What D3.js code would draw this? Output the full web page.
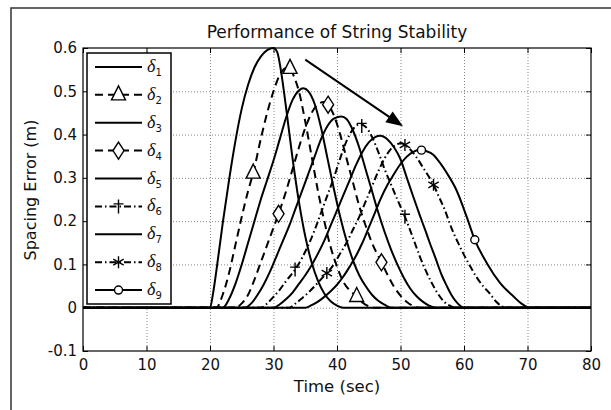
<!DOCTYPE html>
<html>
<head>
<meta charset="utf-8">
<script src="https://cdn.jsdelivr.net/npm/d3@7"></script>
<style>
body { margin: 0; background: #fff; }
svg { display: block; }
text { font-family: "DejaVu Sans", "Liberation Sans", Arial, sans-serif; fill: #111; }
</style>
</head>
<body>
<svg id="chart"></svg>
<script>
// data: [time (sec), spacing error (m)]
const delta1 = [[0,0],[20,0],[20.5,0.035],[21,0.085],[22,0.195],[23,0.295],[24,0.385],[25,0.46],[26,0.515],[27,0.555],[28,0.58],[29,0.595],[30,0.6],[30.6,0.59],[31.2,0.545],[32,0.46],[33,0.345],[34,0.245],[35,0.165],[36,0.105],[37,0.062],[38,0.033],[39,0.015],[40,0.005],[41,0],[80,0]];
const delta2 = [[0,0],[21,0],[22,0.03],[23,0.08],[24,0.145],[25,0.21],[26,0.27],[26.8,0.311],[28,0.39],[29,0.45],[30,0.5],[31,0.538],[32,0.554],[32.6,0.553],[33.2,0.535],[34,0.5],[35,0.43],[36,0.35],[37,0.27],[38,0.2],[39,0.14],[40,0.095],[41,0.06],[42,0.04],[43.1,0.026],[44,0.012],[45,0.003],[45.5,0],[80,0]];
const delta3 = [[0,0],[22,0],[23,0.02],[24,0.055],[25,0.1],[26,0.15],[27,0.2],[28,0.25],[29,0.295],[30,0.34],[31,0.39],[32,0.44],[33,0.48],[34,0.502],[34.7,0.507],[35.5,0.5],[36.5,0.47],[37.5,0.415],[38.5,0.345],[39.5,0.275],[40.5,0.21],[41.5,0.155],[42.5,0.11],[43.5,0.075],[44.5,0.05],[45.5,0.03],[46.5,0.016],[47.5,0.007],[48.5,0],[80,0]];
const delta4 = [[0,0],[24,0],[25,0.01],[26,0.03],[27,0.065],[28,0.105],[29,0.145],[30,0.185],[30.8,0.217],[32,0.27],[33,0.32],[34,0.37],[35,0.415],[36,0.45],[37,0.47],[37.9,0.475],[38.6,0.469],[39.5,0.445],[40.5,0.4],[41.5,0.345],[42.5,0.29],[43.5,0.235],[44.5,0.19],[45.5,0.15],[47,0.105],[48,0.075],[49,0.048],[50,0.028],[51,0.013],[52,0.004],[53,0],[80,0]];
const delta5 = [[0,0],[25.5,0],[26.5,0.01],[27.5,0.03],[28.5,0.055],[29.5,0.085],[30.5,0.12],[31.5,0.155],[32.5,0.19],[33.5,0.23],[34.5,0.27],[35.5,0.31],[36.5,0.35],[37.5,0.39],[38.5,0.42],[39.5,0.437],[40.7,0.442],[41.5,0.436],[42.5,0.41],[43.5,0.37],[44.5,0.32],[45.5,0.27],[46.5,0.22],[47.5,0.175],[48.5,0.135],[49.5,0.1],[50.5,0.07],[51.5,0.045],[52.5,0.027],[53.5,0.014],[54.5,0.005],[55.5,0],[80,0]];
const delta6 = [[0,0],[28,0],[29,0.01],[30,0.025],[31,0.042],[32,0.062],[33.4,0.088],[34.5,0.115],[35.5,0.145],[36.5,0.18],[37.5,0.22],[38.5,0.26],[39.5,0.3],[40.5,0.345],[41.5,0.385],[42.5,0.412],[43.6,0.424],[44.5,0.418],[45.5,0.395],[46.5,0.36],[47.5,0.32],[48.5,0.285],[49.5,0.25],[50.7,0.21],[52,0.16],[53,0.12],[54,0.085],[55,0.055],[56,0.03],[57,0.012],[58,0.003],[58.5,0],[80,0]];
const delta7 = [[0,0],[30,0],[31,0.008],[32,0.02],[33,0.035],[34,0.055],[35,0.075],[36,0.098],[37,0.125],[38,0.155],[39,0.19],[40,0.225],[41,0.26],[42,0.295],[43,0.33],[44,0.36],[45,0.382],[46,0.394],[46.8,0.397],[48,0.388],[49,0.37],[50,0.343],[51,0.3],[52,0.257],[53,0.215],[54,0.175],[54.6,0.15],[55.5,0.115],[56.5,0.075],[57.3,0.05],[58,0.03],[59,0.01],[60,0],[80,0]];
const delta8 = [[0,0],[32.5,0],[33.5,0.01],[34.5,0.022],[35.5,0.035],[36.5,0.05],[37.5,0.066],[38.4,0.08],[39.5,0.1],[40.5,0.125],[41.5,0.15],[42.5,0.18],[43.5,0.21],[44.5,0.245],[45.5,0.28],[46.5,0.315],[47.5,0.345],[48.5,0.367],[49.5,0.378],[50.2,0.38],[50.7,0.376],[51.5,0.366],[52.5,0.348],[53.5,0.325],[54.5,0.302],[55.2,0.284],[56,0.258],[57,0.225],[58,0.185],[59,0.152],[60,0.122],[61,0.095],[62,0.07],[63,0.05],[64,0.034],[65,0.015],[66,0.003],[66.5,0],[80,0]];
const delta9 = [[0,0],[35,0],[36,0.006],[37,0.014],[38,0.025],[39,0.038],[40,0.053],[41,0.072],[42,0.095],[43,0.12],[44,0.15],[45,0.185],[46,0.22],[46.8,0.249],[48,0.285],[48.9,0.307],[50,0.332],[51,0.349],[52,0.36],[53.1,0.365],[54,0.362],[55.2,0.353],[56.2,0.335],[57.3,0.311],[58.8,0.272],[60.4,0.211],[61.7,0.157],[63.6,0.103],[65.7,0.057],[67.8,0.026],[69,0.01],[70.4,0],[80,0]];

// marker positions on the curves
const marks2 = [[26.8,0.311],[32.6,0.553],[43.1,0.026]];
const marks4 = [[30.8,0.217],[38.6,0.469],[47,0.105]];
const marks6 = [[33.4,0.088],[43.9,0.42],[50.7,0.21]];
const marks8 = [[38.4,0.08],[50.7,0.376],[55.2,0.284]];
const marks9 = [[53.3,0.364],[61.7,0.157]];

const xTicks = [0,10,20,30,40,50,60,70,80];
const yTicks = [-0.1,0,0.1,0.2,0.3,0.4,0.5,0.6];
const yTickLabels = ["-0.1","0","0.1","0.2","0.3","0.4","0.5","0.6"];
const seriesNames = ["1","2","3","4","5","6","7","8","9"];
const arrowFrom = [35, 0.573];
const arrowTo = [50.4, 0.419];

const width = 611, height = 410;
const svg = d3.select("#chart").attr("width", width).attr("height", height);

const x = d3.scaleLinear().domain([0, 80]).range([83, 591]);
const y = d3.scaleLinear().domain([-0.1, 0.6]).range([351, 48]);

// figure frame
svg.append("rect")
    .attr("x", 11).attr("y", 8)
    .attr("width", 700).attr("height", 500)
    .attr("fill", "none").attr("stroke", "#333").attr("stroke-width", 1.5);

// grid
const grid = svg.append("g").attr("stroke", "#888").attr("stroke-width", 1).attr("stroke-dasharray", "1,2");
grid.selectAll("line.vx")
    .data(xTicks.slice(1, -1))
    .enter().append("line")
    .attr("x1", d => x(d) + 0.5).attr("x2", d => x(d) + 0.5)
    .attr("y1", y(0.6)).attr("y2", y(-0.1));
grid.selectAll("line.hy")
    .data(yTicks.slice(1, -1))
    .enter().append("line")
    .attr("x1", x(0)).attr("x2", x(80))
    .attr("y1", d => y(d) + 0.5).attr("y2", d => y(d) + 0.5);

// curves
const styles = [
    { data: delta1, dash: null },
    { data: delta2, dash: "8,5" },
    { data: delta3, dash: null },
    { data: delta4, dash: "8,5" },
    { data: delta5, dash: null },
    { data: delta6, dash: "7,3,1.5,3" },
    { data: delta7, dash: null },
    { data: delta8, dash: "7,3,1.5,3" },
    { data: delta9, dash: null }
];
const line = d3.line().x(d => x(d[0])).y(d => y(d[1])).curve(d3.curveMonotoneX);
const curves = svg.append("g");
styles.forEach(s => {
    curves.append("path")
        .attr("d", line(s.data))
        .attr("fill", "none")
        .attr("stroke", "#000")
        .attr("stroke-width", 2)
        .attr("stroke-dasharray", s.dash);
});

// marker shapes
const shapes = {
    tri: "M0,-9L7,5L-7,5Z",
    dia: "M0,-8.5L5.5,0L0,8.5L-5.5,0Z",
    plus: "M0,-7V7M-5,-2.5H5",
    star: "M0,-6V6M-5.2,-3L5.2,3M-5.2,3L5.2,-3",
    circ: "M4,0A4,4 0 1,1 -4,0A4,4 0 1,1 4,0Z"
};
const drawMarks = (pts, shape) => {
    svg.append("g").selectAll("path")
        .data(pts)
        .enter().append("path")
        .attr("transform", d => `translate(${x(d[0])},${y(d[1])})`)
        .attr("d", shapes[shape])
        .attr("fill", shape === "plus" || shape === "star" ? "none" : "#fff")
        .attr("stroke", "#000")
        .attr("stroke-width", 1.4);
};
drawMarks(marks2, "tri");
drawMarks(marks4, "dia");
drawMarks(marks6, "plus");
drawMarks(marks8, "star");
drawMarks(marks9, "circ");

// axes box with inward ticks
const axes = svg.append("g");
axes.append("rect")
    .attr("x", x(0)).attr("y", y(0.6))
    .attr("width", x(80) - x(0)).attr("height", y(-0.1) - y(0.6))
    .attr("fill", "none").attr("stroke", "#000").attr("stroke-width", 1.2);

axes.append("g").attr("transform", `translate(0,${y(-0.1)})`)
    .call(d3.axisBottom(x).tickValues(xTicks).tickSize(-5).tickPadding(8));
axes.append("g").attr("transform", `translate(${x(0)},0)`)
    .call(d3.axisLeft(y).tickValues(yTicks).tickSize(-5).tickPadding(6)
        .tickFormat((d, i) => yTickLabels[i]));
axes.append("g").attr("transform", `translate(0,${y(0.6)})`)
    .call(d3.axisTop(x).tickValues(xTicks).tickSize(-5).tickFormat(""));
axes.append("g").attr("transform", `translate(${x(80)},0)`)
    .call(d3.axisRight(y).tickValues(yTicks).tickSize(-5).tickFormat(""));
axes.selectAll(".domain").remove();
axes.selectAll(".tick line").attr("stroke", "#000");
axes.selectAll(".tick text")
    .style("font-family", "'DejaVu Sans', 'Liberation Sans', sans-serif")
    .style("font-size", "15px").attr("fill", "#111");

// arrow
const ax0 = x(arrowFrom[0]), ay0 = y(arrowFrom[1]);
const ax1 = x(arrowTo[0]), ay1 = y(arrowTo[1]);
const len = Math.hypot(ax1 - ax0, ay1 - ay0);
const ux = (ax1 - ax0) / len, uy = (ay1 - ay0) / len;
const headLen = 17, headHalf = 6.5;
const bx = ax1 - ux * headLen, by = ay1 - uy * headLen;
svg.append("line")
    .attr("x1", ax0).attr("y1", ay0).attr("x2", bx + ux * 2).attr("y2", by + uy * 2)
    .attr("stroke", "#000").attr("stroke-width", 2);
svg.append("path")
    .attr("d", `M${ax1},${ay1}L${bx - uy * headHalf},${by + ux * headHalf}L${bx + uy * headHalf},${by - ux * headHalf}Z`)
    .attr("fill", "#000");

// legend
const legTop = 53, legBottom = 304, legLeft = 87, legRight = 171;
const rowH = (legBottom - legTop) / seriesNames.length;
const legend = svg.append("g");
legend.append("rect")
    .attr("x", legLeft).attr("y", legTop)
    .attr("width", legRight - legLeft).attr("height", legBottom - legTop)
    .attr("fill", "#fff").attr("stroke", "#000").attr("stroke-width", 1.5);
const legShapes = [null, "tri", null, "dia", null, "plus", null, "star", "circ"];
seriesNames.forEach((name, i) => {
    const cy = legTop + rowH * (i + 0.5);
    legend.append("line")
        .attr("x1", 95).attr("x2", 142).attr("y1", cy).attr("y2", cy)
        .attr("stroke", "#000").attr("stroke-width", 2)
        .attr("stroke-dasharray", styles[i].dash);
    if (legShapes[i]) {
        legend.append("path")
            .attr("transform", `translate(118.5,${cy})`)
            .attr("d", shapes[legShapes[i]])
            .attr("fill", legShapes[i] === "plus" || legShapes[i] === "star" ? "none" : "#fff")
            .attr("stroke", "#000").attr("stroke-width", 1.4);
    }
    const t = legend.append("text").attr("x", 147).attr("y", cy + 5);
    t.append("tspan").text("δ")
        .style("font-family", "'Liberation Serif', 'DejaVu Serif', serif")
        .style("font-style", "italic").style("font-size", "18px");
    t.append("tspan").text(name).attr("dy", 4).style("font-size", "10px");
});

// title and axis labels
svg.append("text")
    .attr("x", (x(0) + x(80)) / 2).attr("y", 38)
    .attr("text-anchor", "middle").style("font-size", "17px")
    .text("Performance of String Stability");
svg.append("text")
    .attr("x", (x(0) + x(80)) / 2).attr("y", 392)
    .attr("text-anchor", "middle").style("font-size", "16.5px")
    .text("Time (sec)");
svg.append("text")
    .attr("transform", "translate(36,190) rotate(-90)")
    .attr("text-anchor", "middle").style("font-size", "16px")
    .text("Spacing Error (m)");
</script>
</body>
</html>
